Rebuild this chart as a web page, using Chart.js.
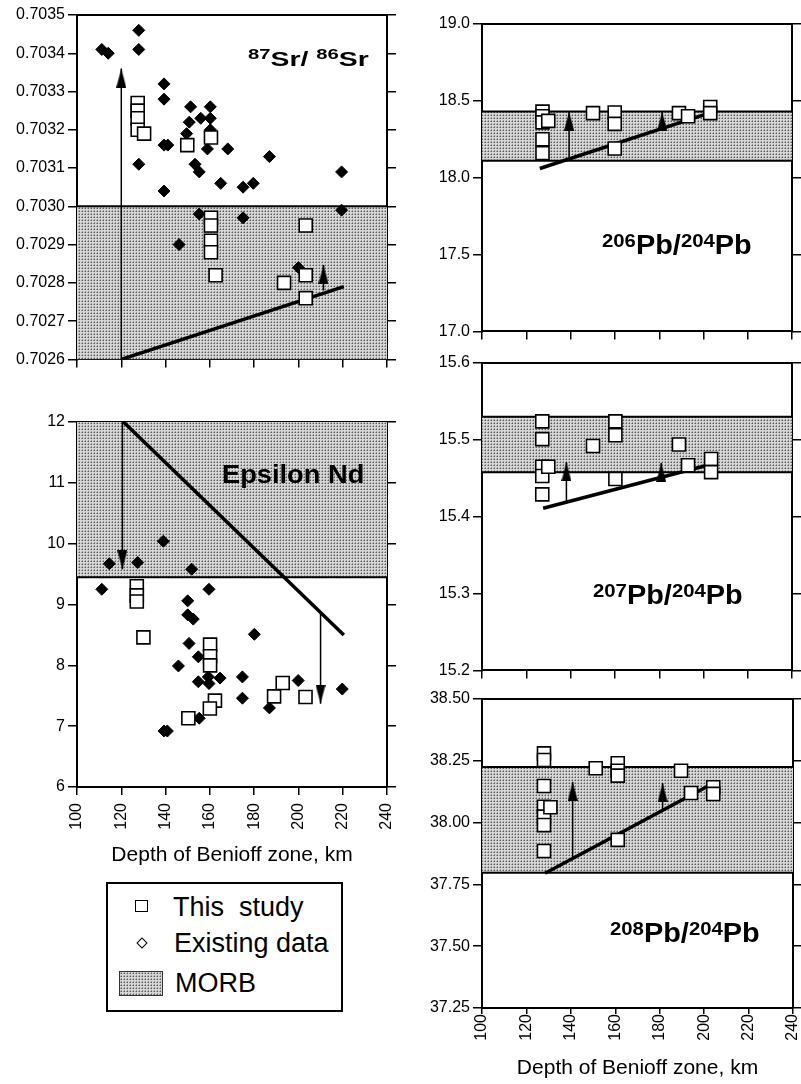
<!DOCTYPE html>
<html><head><meta charset="utf-8">
<script src="https://cdn.jsdelivr.net/npm/chart.js@4.4.1/dist/chart.umd.min.js"></script>
<style>
body{margin:0;background:#fff;width:801px;height:1084px;position:relative;overflow:hidden;font-family:"Liberation Sans",Arial,sans-serif;color:#000}
canvas{position:absolute}
.ttl{position:absolute;font-weight:bold;white-space:nowrap;line-height:1;transform-origin:0 0}
.sup{position:relative}
.lg{position:absolute;font-size:27px;line-height:1;white-space:pre}
</style></head><body>
<canvas id="cSr" width="400" height="372" style="left:0;top:0"></canvas>
<canvas id="cNd" width="415" height="500" style="left:0;top:380px"></canvas>
<canvas id="c206" width="403" height="344" style="left:400px;top:0"></canvas>
<canvas id="c207" width="403" height="339" style="left:400px;top:344px"></canvas>
<canvas id="c208" width="413" height="401" style="left:400px;top:683px"></canvas>

<div class="ttl" style="left:248px;top:48px;font-size:21px;transform:scaleX(1.35)"><span class="sup" style="font-size:15px;top:-7px">87</span>Sr/ <span class="sup" style="font-size:15px;top:-7px">86</span>Sr</div>
<div class="ttl" style="left:222px;top:462px;font-size:25px;transform:scaleX(1.09)">Epsilon Nd</div>
<div class="ttl" style="left:602px;top:232px;font-size:27px;transform:scaleX(1.07)"><span class="sup" style="font-size:19px;top:-7px">206</span>Pb/<span class="sup" style="font-size:19px;top:-7px">204</span>Pb</div>
<div class="ttl" style="left:593px;top:582px;font-size:27px;transform:scaleX(1.07)"><span class="sup" style="font-size:19px;top:-7px">207</span>Pb/<span class="sup" style="font-size:19px;top:-7px">204</span>Pb</div>
<div class="ttl" style="left:610px;top:920px;font-size:27px;transform:scaleX(1.07)"><span class="sup" style="font-size:19px;top:-7px">208</span>Pb/<span class="sup" style="font-size:19px;top:-7px">204</span>Pb</div>

<div style="position:absolute;left:106px;top:882px;width:237px;height:130px;box-sizing:border-box;border:2px solid #000"></div>
<div style="position:absolute;left:135px;top:900px;width:13px;height:12px;box-sizing:border-box;border:1.5px solid #000;background:#fff"></div>
<div class="lg" style="left:173px;top:894px">This  study</div>
<div style="position:absolute;left:138px;top:939px;width:8px;height:8px;box-sizing:border-box;border:1.5px solid #000;transform:rotate(45deg)"></div>
<div class="lg" style="left:174px;top:930px">Existing data</div>
<div id="swatch" style="position:absolute;left:119px;top:971px;width:44px;height:25px;box-sizing:border-box;border:1.5px solid #333"></div>
<div class="lg" style="left:175px;top:970px">MORB</div>

<script>
// ---------- data ----------
const depthTicks = [100,120,140,160,180,200,220,240];

const srTicks = [0.7026,0.7027,0.7028,0.7029,0.7030,0.7031,0.7032,0.7033,0.7034,0.7035];
const srExistX = [111.2,114.1,127.9,127.9,127.9,139.3,139.3,139.3,141.0,139.3,149.5,151.3,150.7,155.9,153.3,155.2,160.2,160.2,160.2,158.9,168.1,164.9,175.0,179.6,186.9,219.5,219.5,155.2,175.0,146.1,200.0];
const srExistY = [0.70341,0.70340,0.70346,0.70341,0.70311,0.70332,0.70328,0.70316,0.70316,0.70304,0.70319,0.70326,0.70322,0.70323,0.70311,0.70309,0.70326,0.70323,0.70320,0.70315,0.70315,0.70306,0.70305,0.70306,0.70313,0.70309,0.70299,0.70298,0.70297,0.70290,0.70284];
const srStudyX = [127.4,127.4,127.4,127.4,130.3,149.8,160.5,160.5,160.5,160.5,160.5,162.6,193.5,203.3,203.3,203.3];
const srStudyY = [0.70327,0.70325,0.70323,0.70320,0.70319,0.70316,0.70318,0.70297,0.70295,0.70291,0.70288,0.70282,0.70280,0.70295,0.70282,0.70276];
const srMorb = [0.7026, 0.7030];
const srTrendX = [120, 220.5], srTrendY = [0.7026, 0.70279];
const srArrows = [[120, 0.7026, 0.70336], [211.3, 0.70278, 0.702847]];

const ndTicks = [6,7,8,9,10,11,12];
const ndExistX = [111.2,114.6,127.4,139.0,151.8,159.6,150.0,150.0,152.5,180.1,150.6,154.8,145.8,154.8,159.3,159.6,164.6,174.7,174.7,186.9,199.9,219.8,155.2,139.3,140.8];
const ndExistY = [9.25,9.67,9.69,10.04,9.58,9.25,9.06,8.83,8.76,8.51,8.36,8.14,7.99,7.73,7.81,7.70,7.79,7.81,7.46,7.30,7.75,7.61,7.13,6.92,6.92];
const ndStudyX = [127,127,127,130,160.1,160.1,160.1,162.3,160,150.3,189,192.9,203.2];
const ndStudyY = [9.3,9.15,9.05,8.46,8.34,8.15,8.0,7.42,7.29,7.13,7.49,7.71,7.48];
const ndMorb = [9.45, 12];
const ndTrendX = [121, 220.5], ndTrendY = [12, 8.5];
const ndArrows = [[120.5, 12, 9.58], [210, 8.86, 7.37]];

const pb206Ticks = [17.0,17.5,18.0,18.5,19.0];
const pb206X = [127.3,127.3,127.3,127.3,127.3,129.9,150.1,159.9,159.9,159.9,188.9,193.0,203.0,203.0];
const pb206Y = [18.43,18.40,18.36,18.25,18.16,18.37,18.42,18.424,18.35,18.19,18.42,18.40,18.46,18.42];
const pb206Morb = [18.11, 18.43];
const pb206TrendX = [126.1, 200.4], pb206TrendY = [18.06, 18.41];
const pb206Arrows = [[139.3, 18.11, 18.43], [181.3, 18.32, 18.43]];

const pb207Ticks = [15.2,15.3,15.4,15.5,15.6];
const pb207X = [127.2,127.2,127.2,127.2,127.2,129.9,150.1,160.2,160.2,160.2,188.9,193.0,203.4,203.4];
const pb207Y = [15.524,15.501,15.465,15.453,15.429,15.465,15.492,15.524,15.506,15.449,15.494,15.467,15.475,15.458];
const pb207Morb = [15.458, 15.53];
const pb207TrendX = [127.6, 200.4], pb207TrendY = [15.411, 15.466];
const pb207Arrows = [[138.1, 15.42, 15.471], [180.9, 15.452, 15.470]];

const pb208Ticks = [37.25,37.50,37.75,38.00,38.25,38.50];
const pb208X = [127.9,127.9,127.9,127.9,127.9,127.9,127.9,130.8,151.2,161.1,161.1,161.1,161.1,189.6,194.1,204.1,204.1];
const pb208Y = [38.28,38.253,38.148,38.064,38.024,37.99,37.885,38.062,38.22,38.24,38.21,38.19,37.93,38.21,38.12,38.143,38.116];
const pb208Morb = [37.797, 38.225];
const pb208TrendX = [128.4, 204.1], pb208TrendY = [37.795, 38.159];
const pb208Arrows = [[140.8, 37.855, 38.165], [181.3, 38.05, 38.16]];

// ---------- styling helpers ----------
const FONT = "'Liberation Sans', Arial, sans-serif";
Chart.defaults.font.family = FONT;
Chart.defaults.color = '#000';

const pc = document.createElement('canvas'); pc.width = 3; pc.height = 3;
const pg = pc.getContext('2d');
pg.fillStyle = '#d6d6d6'; pg.fillRect(0,0,3,3);
pg.fillStyle = '#5a5a5a'; pg.fillRect(1,1,1,1);
pg.fillStyle = '#999999'; pg.fillRect(0,1,1,1); pg.fillRect(1,0,1,1);
const pattern = pg.createPattern(pc, 'repeat');
document.getElementById('swatch').style.background = 'url(' + pc.toDataURL() + ') repeat';

const head = document.createElement('canvas'); head.width = 10; head.height = 38;
const hg = head.getContext('2d'); hg.fillStyle = '#000';
hg.beginPath(); hg.moveTo(5,19); hg.lineTo(10,38); hg.lineTo(0,38); hg.closePath(); hg.fill();

const zip = (xs, ys) => xs.map((x,i) => ({x, y: ys[i]}));
const ax = {xAxisID:'x', yAxisID:'y'};

function studyDs(xs, ys){ return {...ax, label:'This study', data: zip(xs,ys), pointStyle:'rect', pointRadius:9.2, backgroundColor:'#fff', borderColor:'#000', pointBorderWidth:1.6, showLine:false}; }
function existDs(xs, ys){ return {...ax, label:'Existing data', data: zip(xs,ys), pointStyle:'rectRot', pointRadius:6, backgroundColor:'#000', borderColor:'#000', pointBorderWidth:1, showLine:false}; }
function trendDs(xs, ys){ return {...ax, type:'line', data: zip(xs,ys), borderColor:'#000', borderWidth:3.5, pointRadius:0, fill:false}; }
function arrowDs(a){
  const up = a[2] > a[1];
  return {...ax, type:'line', data:[{x:a[0], y:a[1]},{x:a[0], y:a[2]}], borderColor:'#000', backgroundColor:'#000', borderWidth:1.5, fill:false,
    pointRadius: c => c.dataIndex === 1 ? 6 : 0, pointStyle: c => c.dataIndex === 1 ? head : 'circle', pointRotation: up ? 0 : 180};
}
function lineDs(v){ return {...ax, type:'line', data:[{x:100,y:v},{x:240,y:v}], borderColor:'#000', borderWidth:2, pointRadius:0, fill:false}; }
function bandDs(m){ return {...ax, type:'line', label:'MORB', data:[{x:100,y:m[1]},{x:240,y:m[1]}], borderColor:'rgba(0,0,0,0)', borderWidth:0, pointRadius:0, backgroundColor: pattern, fill:{value:m[0]}}; }

function makeChart(id, o){
  const tickSet = v => s => { s.ticks = v.map(t => ({value:t})); };
  const yTicks = o.yTicks;
  const scales = {
    x: {type:'linear', position:'bottom', min:100, max:240,
      afterBuildTicks: tickSet(depthTicks), afterFit: s => { s.height = o.xH; },
      ticks:{display: !!o.xLabels, autoSkip:false, minRotation:90, maxRotation:90, padding: o.xPad || 0, font:{size:16}, color:'#000'},
      grid:{drawOnChartArea:false, drawTicks:true, tickLength: o.xTick || 8, color:'#000', lineWidth:1.5},
      border:{display:true, color:'#000', width:2},
      title:{display: !!o.xLabels, text:'Depth of Benioff zone, km', color:'#000', font:{size:21}, padding:{top:0, bottom:o.titlePad || 0}}},
    xt: {type:'linear', position:'top', min:100, max:240, afterFit: s => { s.height = 0; },
      ticks:{display:false}, grid:{drawOnChartArea:false, drawTicks:false}, border:{display:true, color:'#000', width:2}},
    y: {type:'linear', position:'left', min:yTicks[0], max:yTicks[yTicks.length-1],
      afterBuildTicks: tickSet(yTicks), afterFit: s => { s.width = o.leftW; },
      ticks:{font:{size:16}, color:'#000', padding:3, callback: v => Number(v).toFixed(o.dec)},
      grid:{drawOnChartArea:false, drawTicks:true, tickLength:9, color:'#000', lineWidth:1.5},
      border:{display:true, color:'#000', width:2}},
    y2: {type:'linear', position:'right', min:yTicks[0], max:yTicks[yTicks.length-1],
      afterBuildTicks: tickSet(yTicks), afterFit: s => { s.width = o.rightW; },
      ticks:{display:false},
      grid:{drawOnChartArea:false, drawTicks:true, tickLength:9, color:'#000', lineWidth:1.5},
      border:{display:true, color:'#000', width:2}}
  };
  return new Chart(document.getElementById(id), {
    type:'scatter',
    data:{datasets:o.datasets},
    options:{responsive:false, animation:false, events:[], devicePixelRatio:1,
      layout:{padding:{top:o.padTop, left:0, right:0, bottom:0}},
      plugins:{legend:{display:false}, tooltip:{enabled:false}},
      scales}
  });
}

makeChart('cSr', {yTicks:srTicks, dec:4, leftW:77, rightW:13, xH:10, padTop:15,
  datasets:[studyDs(srStudyX, srStudyY), existDs(srExistX, srExistY), ...srArrows.map(arrowDs), trendDs(srTrendX, srTrendY), lineDs(srMorb[1]), bandDs(srMorb)]});

makeChart('cNd', {yTicks:ndTicks, dec:0, leftW:77, rightW:28, xH:93, padTop:42, xLabels:true, xPad:8, xTick:8, titlePad:12,
  datasets:[studyDs(ndStudyX, ndStudyY), existDs(ndExistX, ndExistY), ...ndArrows.map(arrowDs), trendDs(ndTrendX, ndTrendY), lineDs(ndMorb[0]), bandDs(ndMorb)]});

makeChart('c206', {yTicks:pb206Ticks, dec:1, leftW:82, rightW:10, xH:10, padTop:24,
  datasets:[studyDs(pb206X, pb206Y), ...pb206Arrows.map(arrowDs), trendDs(pb206TrendX, pb206TrendY), lineDs(pb206Morb[0]), lineDs(pb206Morb[1]), bandDs(pb206Morb)]});

makeChart('c207', {yTicks:pb207Ticks, dec:1, leftW:82, rightW:10, xH:10, padTop:19,
  datasets:[studyDs(pb207X, pb207Y), ...pb207Arrows.map(arrowDs), trendDs(pb207TrendX, pb207TrendY), lineDs(pb207Morb[0]), lineDs(pb207Morb[1]), bandDs(pb207Morb)]});

makeChart('c208', {yTicks:pb208Ticks, dec:2, leftW:82, rightW:20, xH:76, padTop:16, xLabels:true, xPad:0, xTick:6, titlePad:3,
  datasets:[studyDs(pb208X, pb208Y), ...pb208Arrows.map(arrowDs), trendDs(pb208TrendX, pb208TrendY), lineDs(pb208Morb[0]), lineDs(pb208Morb[1]), bandDs(pb208Morb)]});
</script>
</body></html>
